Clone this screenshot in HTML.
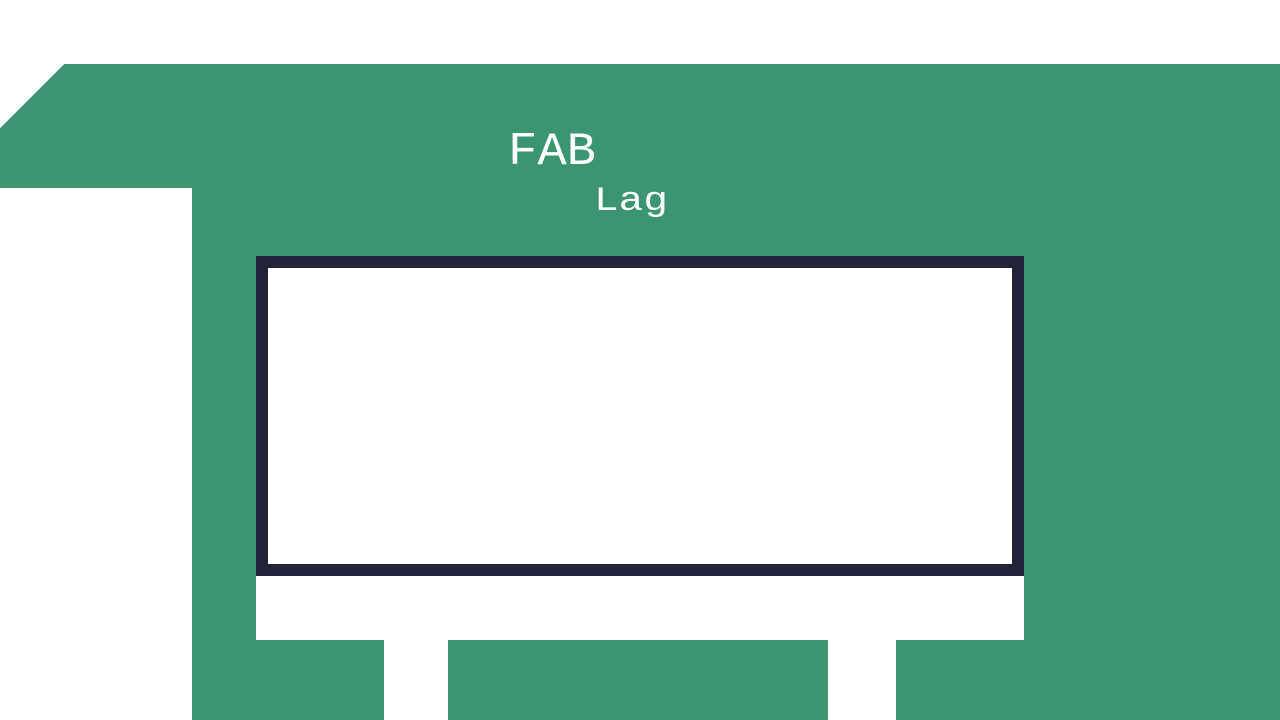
<!DOCTYPE html>
<html><head><meta charset="utf-8"><style>html,body{margin:0;padding:0;background:#fff;width:1280px;height:720px;overflow:hidden}</style></head>
<body>
<svg width="1280" height="720" viewBox="0 0 1280 720" xmlns="http://www.w3.org/2000/svg" shape-rendering="crispEdges">
<rect x="0" y="0" width="1280" height="720" fill="#ffffff"/>
<polygon fill="#3a9570" points="64,64 1280,64 1280,720 896,720 896,640 1024,640 1024,256 256,256 256,640 828,640 828,720 448,720 448,640 384,640 384,720 192,720 192,188 0,188 0,128"/>
<rect x="262" y="262" width="756" height="308" fill="#ffffff" stroke="#22223a" stroke-width="12"/>
<text x="508" y="164" fill="#ffffff" font-family="Liberation Mono, monospace" font-size="46" textLength="88" lengthAdjust="spacingAndGlyphs">FAB</text>
<text x="594" y="210" fill="#ffffff" font-family="Liberation Mono, monospace" font-size="34" textLength="74" lengthAdjust="spacingAndGlyphs">Lag</text>
</svg>
</body></html>
